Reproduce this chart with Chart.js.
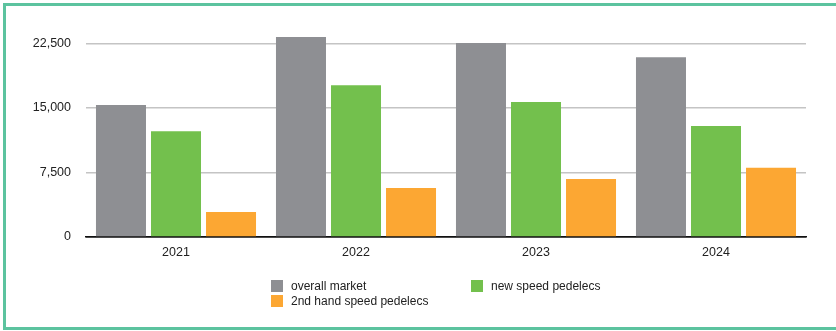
<!DOCTYPE html>
<html>
<head>
<meta charset="utf-8">
<script src="https://cdn.jsdelivr.net/npm/chart.js@4/dist/chart.umd.min.js"></script>
<style>
  html, body { margin: 0; padding: 0; background: #fff; overflow: hidden; }
  #wrap { position: relative; width: 836px; height: 331px; overflow: hidden; }
  #frame {
    position: absolute; left: 3px; top: 3px; width: 900px; height: 327px;
    box-sizing: border-box; border: 3px solid #5cc39f; border-right: none;
    pointer-events: none;
  }
  #legend {
    position: absolute; left: 271px; top: 279px;
    display: grid; grid-template-columns: 200px 200px; row-gap: 1px;
    font: 12px Helvetica, Arial, "Liberation Sans", sans-serif; color: #222;
  }
  .item { display: flex; align-items: center; height: 14px; }
  .box { width: 12px; height: 12px; margin-right: 8px; }
</style>
</head>
<body>
<div id="wrap">
  <canvas id="chart" width="836" height="331"></canvas>
  <div id="frame"></div>
  <div id="legend"></div>
</div>
<script>
const years = ["2021", "2022", "2023", "2024"];
const overallMarket = [15350, 23250, 22550, 20900];
const newSpeedPedelecs = [12300, 17650, 15700, 12900];
const secondHandSpeedPedelecs = [2900, 5700, 6750, 8050];
const yTicks = [0, 7500, 15000, 22500];

const datasets = [
  { label: "overall market", data: overallMarket, backgroundColor: "#8e8f93" },
  { label: "new speed pedelecs", data: newSpeedPedelecs, backgroundColor: "#73c04d" },
  { label: "2nd hand speed pedelecs", data: secondHandSpeedPedelecs, backgroundColor: "#fca733" }
];

const ctx = document.getElementById("chart").getContext("2d");
new Chart(ctx, {
  type: "bar",
  data: {
    labels: years,
    datasets: datasets.map(d => ({
      ...d,
      categoryPercentage: 0.917,
      barPercentage: 0.909,
      clip: false
    }))
  },
  options: {
    responsive: false,
    animation: false,
    layout: { padding: { top: 43.5, right: 30, left: 0, bottom: 0 } },
    plugins: { legend: { display: false }, tooltip: { enabled: false } },
    scales: {
      x: {
        grid: { display: false },
        border: { display: true, color: "#111", width: 1.5 },
        ticks: { color: "#222", padding: 0, font: { family: "Helvetica, Arial, 'Liberation Sans'", size: 12.5 } },
        afterFit: scale => { scale.height = 94; }
      },
      y: {
        min: 0,
        max: 22500,
        border: { display: false },
        grid: {
          drawTicks: false,
          lineWidth: 1.5,
          color: c => (c.tick && c.tick.value === 0) ? "#111" : "#c4c4c4"
        },
        afterBuildTicks: scale => { scale.ticks = yTicks.map(v => ({ value: v })); },
        ticks: {
          color: "#222",
          padding: 15,
          font: { family: "Helvetica, Arial, 'Liberation Sans'", size: 12.5 },
          callback: v => v.toLocaleString("en-US")
        },
        afterFit: scale => { scale.width = 86; }
      }
    }
  }
});

const legend = document.getElementById("legend");
datasets.forEach(d => {
  const item = document.createElement("div");
  item.className = "item";
  item.innerHTML = '<span class="box" style="background:' + d.backgroundColor + '"></span><span>' + d.label + '</span>';
  legend.appendChild(item);
});
</script>
</body>
</html>
